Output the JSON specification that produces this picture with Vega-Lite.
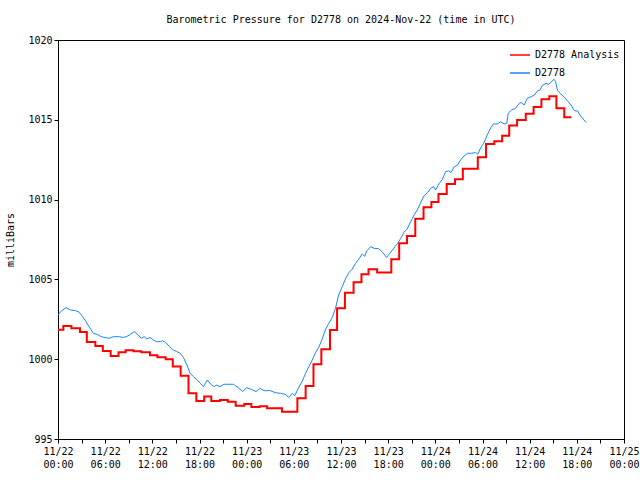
{
  "$schema": "https://vega.github.io/schema/vega-lite/v6.json",
  "width": 566,
  "height": 399,
  "autosize": {"type": "none"},
  "padding": {"left": 58, "top": 40, "right": 16, "bottom": 41},
  "background": "white",
  "title": {"text": "Barometric Pressure for D2778 on 2024-Nov-22 (time in UTC)", "font": "DejaVu Sans Mono", "fontSize": 10, "fontWeight": "normal", "color": "black", "anchor": "middle", "offset": 10},
  "config": {
    "view": {"stroke": "black", "strokeWidth": 1},
    "axis": {"domainColor": "black", "tickColor": "black", "labelColor": "black", "titleColor": "black", "labelFont": "DejaVu Sans Mono", "titleFont": "DejaVu Sans Mono", "labelFontSize": 10, "titleFontSize": 10, "titleFontWeight": "normal", "grid": false},
    "legend": {"labelFont": "DejaVu Sans Mono", "labelFontSize": 10, "labelColor": "black"}
  },
  "data": {"values": [
      {"series": "D2778 Analysis", "time": "2024-11-22T00:00:00Z", "mb": 1001.85}, {"series": "D2778 Analysis", "time": "2024-11-22T00:41:00Z", "mb": 1002.08}, {"series": "D2778 Analysis", "time": "2024-11-22T01:42:00Z", "mb": 1001.94}, {"series": "D2778 Analysis", "time": "2024-11-22T02:48:00Z", "mb": 1001.70}, {"series": "D2778 Analysis", "time": "2024-11-22T03:40:00Z", "mb": 1001.08}, {"series": "D2778 Analysis", "time": "2024-11-22T04:45:00Z", "mb": 1000.83}, {"series": "D2778 Analysis", "time": "2024-11-22T05:42:00Z", "mb": 1000.51}, {"series": "D2778 Analysis", "time": "2024-11-22T06:42:00Z", "mb": 1000.20}, {"series": "D2778 Analysis", "time": "2024-11-22T07:42:00Z", "mb": 1000.43}, {"series": "D2778 Analysis", "time": "2024-11-22T08:36:00Z", "mb": 1000.56}, {"series": "D2778 Analysis", "time": "2024-11-22T09:36:00Z", "mb": 1000.50}, {"series": "D2778 Analysis", "time": "2024-11-22T10:36:00Z", "mb": 1000.43}, {"series": "D2778 Analysis", "time": "2024-11-22T11:42:00Z", "mb": 1000.24}, {"series": "D2778 Analysis", "time": "2024-11-22T12:39:00Z", "mb": 1000.12}, {"series": "D2778 Analysis", "time": "2024-11-22T13:42:00Z", "mb": 999.99}, {"series": "D2778 Analysis", "time": "2024-11-22T14:36:00Z", "mb": 999.55}, {"series": "D2778 Analysis", "time": "2024-11-22T15:36:00Z", "mb": 998.97}, {"series": "D2778 Analysis", "time": "2024-11-22T16:36:00Z", "mb": 997.86}, {"series": "D2778 Analysis", "time": "2024-11-22T17:36:00Z", "mb": 997.38}, {"series": "D2778 Analysis", "time": "2024-11-22T18:36:00Z", "mb": 997.67}, {"series": "D2778 Analysis", "time": "2024-11-22T19:30:00Z", "mb": 997.38}, {"series": "D2778 Analysis", "time": "2024-11-22T20:36:00Z", "mb": 997.44}, {"series": "D2778 Analysis", "time": "2024-11-22T21:36:00Z", "mb": 997.34}, {"series": "D2778 Analysis", "time": "2024-11-22T22:36:00Z", "mb": 997.09}, {"series": "D2778 Analysis", "time": "2024-11-22T23:42:00Z", "mb": 997.19},
      {"series": "D2778 Analysis", "time": "2024-11-23T00:36:00Z", "mb": 997.00}, {"series": "D2778 Analysis", "time": "2024-11-23T01:39:00Z", "mb": 997.05}, {"series": "D2778 Analysis", "time": "2024-11-23T02:36:00Z", "mb": 996.92}, {"series": "D2778 Analysis", "time": "2024-11-23T04:30:00Z", "mb": 996.71}, {"series": "D2778 Analysis", "time": "2024-11-23T06:27:00Z", "mb": 997.55}, {"series": "D2778 Analysis", "time": "2024-11-23T07:30:00Z", "mb": 998.32}, {"series": "D2778 Analysis", "time": "2024-11-23T08:30:00Z", "mb": 999.68}, {"series": "D2778 Analysis", "time": "2024-11-23T09:30:00Z", "mb": 1000.62}, {"series": "D2778 Analysis", "time": "2024-11-23T10:36:00Z", "mb": 1001.83}, {"series": "D2778 Analysis", "time": "2024-11-23T11:30:00Z", "mb": 1003.19}, {"series": "D2778 Analysis", "time": "2024-11-23T12:30:00Z", "mb": 1004.17}, {"series": "D2778 Analysis", "time": "2024-11-23T13:36:00Z", "mb": 1004.82}, {"series": "D2778 Analysis", "time": "2024-11-23T14:36:00Z", "mb": 1005.32}, {"series": "D2778 Analysis", "time": "2024-11-23T15:30:00Z", "mb": 1005.63}, {"series": "D2778 Analysis", "time": "2024-11-23T16:36:00Z", "mb": 1005.44}, {"series": "D2778 Analysis", "time": "2024-11-23T18:24:00Z", "mb": 1006.26}, {"series": "D2778 Analysis", "time": "2024-11-23T19:24:00Z", "mb": 1007.26}, {"series": "D2778 Analysis", "time": "2024-11-23T20:24:00Z", "mb": 1007.72}, {"series": "D2778 Analysis", "time": "2024-11-23T21:27:00Z", "mb": 1008.80}, {"series": "D2778 Analysis", "time": "2024-11-23T22:30:00Z", "mb": 1009.52}, {"series": "D2778 Analysis", "time": "2024-11-23T23:30:00Z", "mb": 1009.85},
      {"series": "D2778 Analysis", "time": "2024-11-24T00:24:00Z", "mb": 1010.35}, {"series": "D2778 Analysis", "time": "2024-11-24T01:27:00Z", "mb": 1010.98}, {"series": "D2778 Analysis", "time": "2024-11-24T02:30:00Z", "mb": 1011.27}, {"series": "D2778 Analysis", "time": "2024-11-24T03:30:00Z", "mb": 1011.94}, {"series": "D2778 Analysis", "time": "2024-11-24T05:24:00Z", "mb": 1012.65}, {"series": "D2778 Analysis", "time": "2024-11-24T06:27:00Z", "mb": 1013.48}, {"series": "D2778 Analysis", "time": "2024-11-24T07:30:00Z", "mb": 1013.65}, {"series": "D2778 Analysis", "time": "2024-11-24T08:30:00Z", "mb": 1014.00}, {"series": "D2778 Analysis", "time": "2024-11-24T09:24:00Z", "mb": 1014.65}, {"series": "D2778 Analysis", "time": "2024-11-24T10:24:00Z", "mb": 1014.99}, {"series": "D2778 Analysis", "time": "2024-11-24T11:30:00Z", "mb": 1015.38}, {"series": "D2778 Analysis", "time": "2024-11-24T12:30:00Z", "mb": 1015.80}, {"series": "D2778 Analysis", "time": "2024-11-24T13:30:00Z", "mb": 1016.28}, {"series": "D2778 Analysis", "time": "2024-11-24T14:30:00Z", "mb": 1016.47}, {"series": "D2778 Analysis", "time": "2024-11-24T15:24:00Z", "mb": 1015.72}, {"series": "D2778 Analysis", "time": "2024-11-24T16:24:00Z", "mb": 1015.16}, {"series": "D2778 Analysis", "time": "2024-11-24T17:18:00Z", "mb": 1015.16},
      {"series": "D2778", "time": "2024-11-22T00:00:00Z", "mb": 1002.75}, {"series": "D2778", "time": "2024-11-22T00:20:00Z", "mb": 1002.98}, {"series": "D2778", "time": "2024-11-22T01:01:00Z", "mb": 1003.23}, {"series": "D2778", "time": "2024-11-22T01:36:00Z", "mb": 1003.08}, {"series": "D2778", "time": "2024-11-22T02:12:00Z", "mb": 1003.05}, {"series": "D2778", "time": "2024-11-22T02:42:00Z", "mb": 1002.94}, {"series": "D2778", "time": "2024-11-22T03:06:00Z", "mb": 1002.69}, {"series": "D2778", "time": "2024-11-22T03:34:00Z", "mb": 1002.35}, {"series": "D2778", "time": "2024-11-22T04:00:00Z", "mb": 1002.00}, {"series": "D2778", "time": "2024-11-22T04:30:00Z", "mb": 1001.62}, {"series": "D2778", "time": "2024-11-22T05:00:00Z", "mb": 1001.55}, {"series": "D2778", "time": "2024-11-22T05:30:00Z", "mb": 1001.41}, {"series": "D2778", "time": "2024-11-22T06:00:00Z", "mb": 1001.36}, {"series": "D2778", "time": "2024-11-22T06:30:00Z", "mb": 1001.31}, {"series": "D2778", "time": "2024-11-22T07:03:00Z", "mb": 1001.41}, {"series": "D2778", "time": "2024-11-22T07:48:00Z", "mb": 1001.41}, {"series": "D2778", "time": "2024-11-22T08:18:00Z", "mb": 1001.36}, {"series": "D2778", "time": "2024-11-22T08:40:00Z", "mb": 1001.41}, {"series": "D2778", "time": "2024-11-22T09:06:00Z", "mb": 1001.52}, {"series": "D2778", "time": "2024-11-22T09:42:00Z", "mb": 1001.73}, {"series": "D2778", "time": "2024-11-22T10:06:00Z", "mb": 1001.55}, {"series": "D2778", "time": "2024-11-22T10:36:00Z", "mb": 1001.31}, {"series": "D2778", "time": "2024-11-22T11:00:00Z", "mb": 1001.41}, {"series": "D2778", "time": "2024-11-22T11:18:00Z", "mb": 1001.27}, {"series": "D2778", "time": "2024-11-22T11:42:00Z", "mb": 1001.36}, {"series": "D2778", "time": "2024-11-22T12:09:00Z", "mb": 1001.20}, {"series": "D2778", "time": "2024-11-22T12:30:00Z", "mb": 1001.10}, {"series": "D2778", "time": "2024-11-22T13:00:00Z", "mb": 1001.10}, {"series": "D2778", "time": "2024-11-22T13:18:00Z", "mb": 1001.15}, {"series": "D2778", "time": "2024-11-22T13:42:00Z", "mb": 1001.05}, {"series": "D2778", "time": "2024-11-22T14:12:00Z", "mb": 1000.78}, {"series": "D2778", "time": "2024-11-22T14:36:00Z", "mb": 1000.58}, {"series": "D2778", "time": "2024-11-22T15:06:00Z", "mb": 1000.48}, {"series": "D2778", "time": "2024-11-22T15:33:00Z", "mb": 1000.37}, {"series": "D2778", "time": "2024-11-22T15:58:00Z", "mb": 1000.10}, {"series": "D2778", "time": "2024-11-22T16:24:00Z", "mb": 999.64}, {"series": "D2778", "time": "2024-11-22T16:48:00Z", "mb": 999.12}, {"series": "D2778", "time": "2024-11-22T17:15:00Z", "mb": 998.90}, {"series": "D2778", "time": "2024-11-22T17:36:00Z", "mb": 998.75}, {"series": "D2778", "time": "2024-11-22T18:06:00Z", "mb": 998.49}, {"series": "D2778", "time": "2024-11-22T18:30:00Z", "mb": 998.28}, {"series": "D2778", "time": "2024-11-22T19:00:00Z", "mb": 998.70}, {"series": "D2778", "time": "2024-11-22T19:24:00Z", "mb": 998.45}, {"series": "D2778", "time": "2024-11-22T19:48:00Z", "mb": 998.28}, {"series": "D2778", "time": "2024-11-22T20:12:00Z", "mb": 998.38}, {"series": "D2778", "time": "2024-11-22T20:36:00Z", "mb": 998.28}, {"series": "D2778", "time": "2024-11-22T21:06:00Z", "mb": 998.43}, {"series": "D2778", "time": "2024-11-22T22:18:00Z", "mb": 998.43}, {"series": "D2778", "time": "2024-11-22T22:36:00Z", "mb": 998.33}, {"series": "D2778", "time": "2024-11-22T23:00:00Z", "mb": 998.18}, {"series": "D2778", "time": "2024-11-22T23:30:00Z", "mb": 997.97},
      {"series": "D2778", "time": "2024-11-23T00:00:00Z", "mb": 998.22}, {"series": "D2778", "time": "2024-11-23T00:36:00Z", "mb": 998.10}, {"series": "D2778", "time": "2024-11-23T01:12:00Z", "mb": 997.97}, {"series": "D2778", "time": "2024-11-23T01:39:00Z", "mb": 998.18}, {"series": "D2778", "time": "2024-11-23T02:12:00Z", "mb": 998.03}, {"series": "D2778", "time": "2024-11-23T03:00:00Z", "mb": 998.03}, {"series": "D2778", "time": "2024-11-23T03:39:00Z", "mb": 997.90}, {"series": "D2778", "time": "2024-11-23T04:18:00Z", "mb": 997.86}, {"series": "D2778", "time": "2024-11-23T04:54:00Z", "mb": 997.80}, {"series": "D2778", "time": "2024-11-23T05:21:00Z", "mb": 997.61}, {"series": "D2778", "time": "2024-11-23T05:48:00Z", "mb": 997.86}, {"series": "D2778", "time": "2024-11-23T06:06:00Z", "mb": 997.70}, {"series": "D2778", "time": "2024-11-23T06:36:00Z", "mb": 998.20}, {"series": "D2778", "time": "2024-11-23T07:03:00Z", "mb": 998.60}, {"series": "D2778", "time": "2024-11-23T07:30:00Z", "mb": 999.12}, {"series": "D2778", "time": "2024-11-23T07:54:00Z", "mb": 999.53}, {"series": "D2778", "time": "2024-11-23T08:18:00Z", "mb": 999.90}, {"series": "D2778", "time": "2024-11-23T08:45:00Z", "mb": 1000.40}, {"series": "D2778", "time": "2024-11-23T09:12:00Z", "mb": 1000.78}, {"series": "D2778", "time": "2024-11-23T09:36:00Z", "mb": 1001.25}, {"series": "D2778", "time": "2024-11-23T10:00:00Z", "mb": 1001.83}, {"series": "D2778", "time": "2024-11-23T10:27:00Z", "mb": 1002.25}, {"series": "D2778", "time": "2024-11-23T10:54:00Z", "mb": 1002.62}, {"series": "D2778", "time": "2024-11-23T11:18:00Z", "mb": 1003.19}, {"series": "D2778", "time": "2024-11-23T11:42:00Z", "mb": 1004.02}, {"series": "D2778", "time": "2024-11-23T12:09:00Z", "mb": 1004.54}, {"series": "D2778", "time": "2024-11-23T12:36:00Z", "mb": 1005.07}, {"series": "D2778", "time": "2024-11-23T13:00:00Z", "mb": 1005.42}, {"series": "D2778", "time": "2024-11-23T13:24:00Z", "mb": 1005.63}, {"series": "D2778", "time": "2024-11-23T13:51:00Z", "mb": 1006.00}, {"series": "D2778", "time": "2024-11-23T14:18:00Z", "mb": 1006.30}, {"series": "D2778", "time": "2024-11-23T14:42:00Z", "mb": 1006.59}, {"series": "D2778", "time": "2024-11-23T15:00:00Z", "mb": 1006.45}, {"series": "D2778", "time": "2024-11-23T15:18:00Z", "mb": 1006.80}, {"series": "D2778", "time": "2024-11-23T15:46:00Z", "mb": 1007.05}, {"series": "D2778", "time": "2024-11-23T16:12:00Z", "mb": 1006.95}, {"series": "D2778", "time": "2024-11-23T16:48:00Z", "mb": 1006.92}, {"series": "D2778", "time": "2024-11-23T17:18:00Z", "mb": 1006.70}, {"series": "D2778", "time": "2024-11-23T17:48:00Z", "mb": 1006.38}, {"series": "D2778", "time": "2024-11-23T18:12:00Z", "mb": 1006.63}, {"series": "D2778", "time": "2024-11-23T18:42:00Z", "mb": 1006.95}, {"series": "D2778", "time": "2024-11-23T19:12:00Z", "mb": 1007.26}, {"series": "D2778", "time": "2024-11-23T19:36:00Z", "mb": 1007.57}, {"series": "D2778", "time": "2024-11-23T20:00:00Z", "mb": 1007.95}, {"series": "D2778", "time": "2024-11-23T20:24:00Z", "mb": 1008.15}, {"series": "D2778", "time": "2024-11-23T20:52:00Z", "mb": 1008.62}, {"series": "D2778", "time": "2024-11-23T21:18:00Z", "mb": 1009.04}, {"series": "D2778", "time": "2024-11-23T21:42:00Z", "mb": 1009.35}, {"series": "D2778", "time": "2024-11-23T22:06:00Z", "mb": 1009.77}, {"series": "D2778", "time": "2024-11-23T22:33:00Z", "mb": 1010.23}, {"series": "D2778", "time": "2024-11-23T23:00:00Z", "mb": 1010.43}, {"series": "D2778", "time": "2024-11-23T23:24:00Z", "mb": 1010.71}, {"series": "D2778", "time": "2024-11-23T23:48:00Z", "mb": 1010.81},
      {"series": "D2778", "time": "2024-11-24T00:02:00Z", "mb": 1010.60}, {"series": "D2778", "time": "2024-11-24T00:30:00Z", "mb": 1011.02}, {"series": "D2778", "time": "2024-11-24T00:54:00Z", "mb": 1011.27}, {"series": "D2778", "time": "2024-11-24T01:18:00Z", "mb": 1011.75}, {"series": "D2778", "time": "2024-11-24T01:42:00Z", "mb": 1011.80}, {"series": "D2778", "time": "2024-11-24T02:00:00Z", "mb": 1011.70}, {"series": "D2778", "time": "2024-11-24T02:24:00Z", "mb": 1012.06}, {"series": "D2778", "time": "2024-11-24T02:48:00Z", "mb": 1012.15}, {"series": "D2778", "time": "2024-11-24T03:12:00Z", "mb": 1012.48}, {"series": "D2778", "time": "2024-11-24T03:39:00Z", "mb": 1012.73}, {"series": "D2778", "time": "2024-11-24T04:06:00Z", "mb": 1012.90}, {"series": "D2778", "time": "2024-11-24T04:36:00Z", "mb": 1012.90}, {"series": "D2778", "time": "2024-11-24T05:06:00Z", "mb": 1012.95}, {"series": "D2778", "time": "2024-11-24T05:24:00Z", "mb": 1012.84}, {"series": "D2778", "time": "2024-11-24T05:48:00Z", "mb": 1013.28}, {"series": "D2778", "time": "2024-11-24T06:12:00Z", "mb": 1013.57}, {"series": "D2778", "time": "2024-11-24T06:36:00Z", "mb": 1014.05}, {"series": "D2778", "time": "2024-11-24T07:03:00Z", "mb": 1014.50}, {"series": "D2778", "time": "2024-11-24T07:24:00Z", "mb": 1014.74}, {"series": "D2778", "time": "2024-11-24T07:54:00Z", "mb": 1014.74}, {"series": "D2778", "time": "2024-11-24T08:18:00Z", "mb": 1014.88}, {"series": "D2778", "time": "2024-11-24T08:45:00Z", "mb": 1014.74}, {"series": "D2778", "time": "2024-11-24T09:06:00Z", "mb": 1014.80}, {"series": "D2778", "time": "2024-11-24T09:16:00Z", "mb": 1015.41}, {"series": "D2778", "time": "2024-11-24T09:42:00Z", "mb": 1015.61}, {"series": "D2778", "time": "2024-11-24T10:12:00Z", "mb": 1015.72}, {"series": "D2778", "time": "2024-11-24T10:40:00Z", "mb": 1016.03}, {"series": "D2778", "time": "2024-11-24T10:54:00Z", "mb": 1016.08}, {"series": "D2778", "time": "2024-11-24T11:18:00Z", "mb": 1015.93}, {"series": "D2778", "time": "2024-11-24T11:42:00Z", "mb": 1016.35}, {"series": "D2778", "time": "2024-11-24T12:12:00Z", "mb": 1016.45}, {"series": "D2778", "time": "2024-11-24T12:36:00Z", "mb": 1016.55}, {"series": "D2778", "time": "2024-11-24T13:00:00Z", "mb": 1016.82}, {"series": "D2778", "time": "2024-11-24T13:18:00Z", "mb": 1016.85}, {"series": "D2778", "time": "2024-11-24T13:36:00Z", "mb": 1017.14}, {"series": "D2778", "time": "2024-11-24T14:04:00Z", "mb": 1017.29}, {"series": "D2778", "time": "2024-11-24T14:24:00Z", "mb": 1017.22}, {"series": "D2778", "time": "2024-11-24T14:42:00Z", "mb": 1017.35}, {"series": "D2778", "time": "2024-11-24T15:06:00Z", "mb": 1017.54}, {"series": "D2778", "time": "2024-11-24T15:18:00Z", "mb": 1017.40}, {"series": "D2778", "time": "2024-11-24T15:33:00Z", "mb": 1016.82}, {"series": "D2778", "time": "2024-11-24T15:58:00Z", "mb": 1016.62}, {"series": "D2778", "time": "2024-11-24T16:24:00Z", "mb": 1016.41}, {"series": "D2778", "time": "2024-11-24T16:54:00Z", "mb": 1016.13}, {"series": "D2778", "time": "2024-11-24T17:15:00Z", "mb": 1015.93}, {"series": "D2778", "time": "2024-11-24T17:42:00Z", "mb": 1015.57}, {"series": "D2778", "time": "2024-11-24T18:06:00Z", "mb": 1015.55}, {"series": "D2778", "time": "2024-11-24T18:24:00Z", "mb": 1015.30}, {"series": "D2778", "time": "2024-11-24T18:54:00Z", "mb": 1014.99}, {"series": "D2778", "time": "2024-11-24T19:10:00Z", "mb": 1014.84}
  ]},
  "encoding": {
    "x": {"field": "time", "type": "temporal",
      "scale": {"type": "utc", "domain": [{"year": 2024, "month": 11, "date": 22, "utc": true}, {"year": 2024, "month": 11, "date": 25, "utc": true}], "nice": false},
      "axis": {"title": null, "tickSize": 4, "labelOverlap": false, "labelFlush": false, "labelPadding": 3, "labelLineHeight": 13,
        "labelExpr": "utchours(datum.value) % 6 === 0 ? [utcFormat(datum.value, '%m/%d'), utcFormat(datum.value, '%H:%M')] : ''",
        "values": [
          {"year": 2024, "month": 11, "date": 22, "hours": 0, "utc": true}, {"year": 2024, "month": 11, "date": 22, "hours": 3, "utc": true}, {"year": 2024, "month": 11, "date": 22, "hours": 6, "utc": true}, {"year": 2024, "month": 11, "date": 22, "hours": 9, "utc": true}, {"year": 2024, "month": 11, "date": 22, "hours": 12, "utc": true}, {"year": 2024, "month": 11, "date": 22, "hours": 15, "utc": true}, {"year": 2024, "month": 11, "date": 22, "hours": 18, "utc": true}, {"year": 2024, "month": 11, "date": 22, "hours": 21, "utc": true},
          {"year": 2024, "month": 11, "date": 23, "hours": 0, "utc": true}, {"year": 2024, "month": 11, "date": 23, "hours": 3, "utc": true}, {"year": 2024, "month": 11, "date": 23, "hours": 6, "utc": true}, {"year": 2024, "month": 11, "date": 23, "hours": 9, "utc": true}, {"year": 2024, "month": 11, "date": 23, "hours": 12, "utc": true}, {"year": 2024, "month": 11, "date": 23, "hours": 15, "utc": true}, {"year": 2024, "month": 11, "date": 23, "hours": 18, "utc": true}, {"year": 2024, "month": 11, "date": 23, "hours": 21, "utc": true},
          {"year": 2024, "month": 11, "date": 24, "hours": 0, "utc": true}, {"year": 2024, "month": 11, "date": 24, "hours": 3, "utc": true}, {"year": 2024, "month": 11, "date": 24, "hours": 6, "utc": true}, {"year": 2024, "month": 11, "date": 24, "hours": 9, "utc": true}, {"year": 2024, "month": 11, "date": 24, "hours": 12, "utc": true}, {"year": 2024, "month": 11, "date": 24, "hours": 15, "utc": true}, {"year": 2024, "month": 11, "date": 24, "hours": 18, "utc": true}, {"year": 2024, "month": 11, "date": 24, "hours": 21, "utc": true},
          {"year": 2024, "month": 11, "date": 25, "hours": 0, "utc": true}]}},
    "y": {"field": "mb", "type": "quantitative",
      "scale": {"domain": [995, 1020], "nice": false, "zero": false},
      "axis": {"title": "milliBars", "format": "d", "values": [995, 1000, 1005, 1010, 1015, 1020], "tickSize": 4, "labelPadding": 2, "titlePadding": 12}},
    "color": {"field": "series", "type": "nominal",
      "scale": {"domain": ["D2778 Analysis", "D2778"], "range": ["#ff0000", "#1a84ff"]},
      "legend": {"title": null, "orient": "top-right", "symbolType": "stroke", "symbolSize": 400, "symbolStrokeWidth": 1.5, "rowPadding": 2, "offset": 4}}
  },
  "layer": [
    {"transform": [{"filter": "datum.series === 'D2778 Analysis'"}], "mark": {"type": "line", "interpolate": "step-after", "strokeWidth": 2}},
    {"transform": [{"filter": "datum.series === 'D2778'"}], "mark": {"type": "line", "strokeWidth": 1}}
  ]
}
